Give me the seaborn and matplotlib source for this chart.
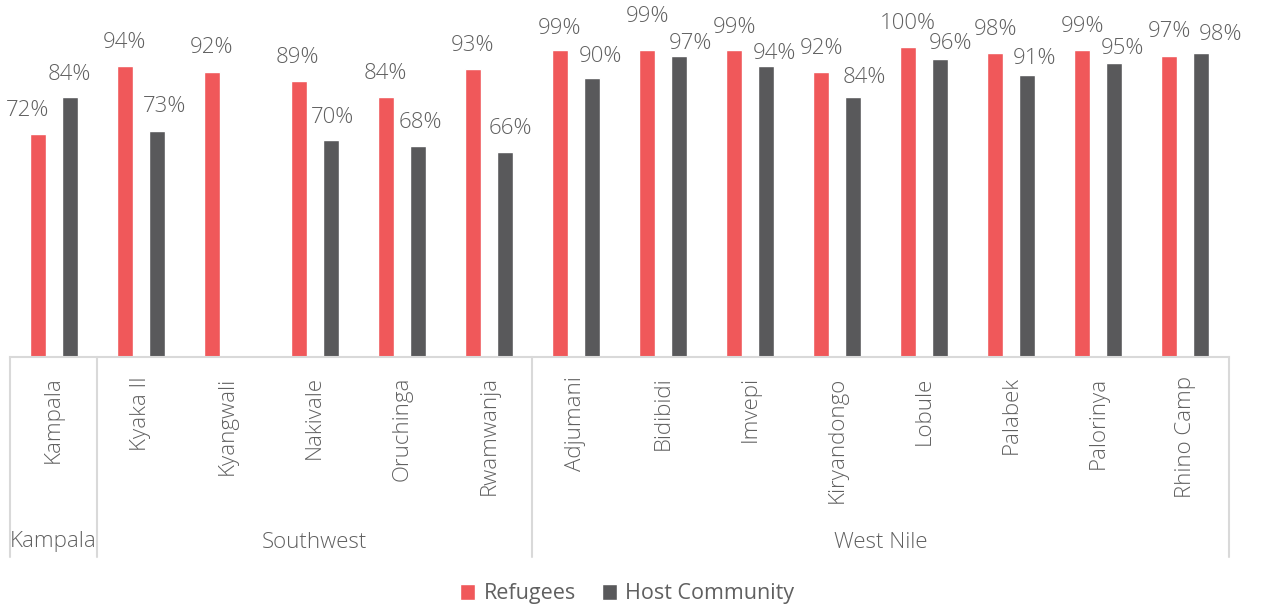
import numpy as np
import pandas as pd
import matplotlib
matplotlib.use("Agg")
import matplotlib.pyplot as plt
from matplotlib.patches import Patch
import seaborn as sns

# Settlement-level shares, grouped by region
settlements = ["Kampala", "Kyaka II", "Kyangwali", "Nakivale", "Oruchinga", "Rwamwanja",
               "Adjumani", "Bidibidi", "Imvepi", "Kiryandongo", "Lobule", "Palabek",
               "Palorinya", "Rhino Camp"]
regions = ["Kampala", "Southwest", "Southwest", "Southwest", "Southwest", "Southwest",
           "West Nile", "West Nile", "West Nile", "West Nile", "West Nile", "West Nile",
           "West Nile", "West Nile"]
refugees = [72, 94, 92, 89, 84, 93, 99, 99, 99, 92, 100, 98, 99, 97]
host_community = [84, 73, np.nan, 70, 68, 66, 90, 97, 94, 84, 96, 91, 95, 98]
series_names = ["Refugees", "Host Community"]
colors = ["#F0585A", "#59595B"]

# Label placement: horizontal shift and gap above the bar, in pixels
refugee_label_dx = [-9.5, 0, 0, -1, 0, 0, 0, 0, 0, 0, 0, 0, 0, 0]
refugee_label_gap = [18, 18, 19, 18, 18, 18, 16, 28, 17, 18, 18, 18, 18, 19]
host_label_dx = [0, 8, 0, 2, 2.5, 5, 8, 11, 8, 11, 10.5, 7.5, 8, 19]
host_label_gap = [17, 19, 0, 17, 18, 18, 16, 7, 7, 14, 10, 11, 9, 13]

sns.set_theme(style="white")
plt.rcParams["font.family"] = ["Open Sans", "DejaVu Sans"]
text_color = "#606060"
line_color = "#D9D9D9"
PX = 72 / 100  # points per pixel at 100 dpi

df = pd.DataFrame({
    "settlement": settlements * 2,
    "series": [series_names[0]] * len(settlements) + [series_names[1]] * len(settlements),
    "value": refugees + host_community,
}).dropna()

fig = plt.figure(figsize=(12.62, 6.10), dpi=100)
ax = fig.add_axes([10 / 1262, 1 - 357 / 610, 1219 / 1262, 341 / 610])

sns.barplot(data=df, x="settlement", y="value", hue="series", order=settlements,
            hue_order=series_names, palette=colors, width=0.736, gap=0.5,
            saturation=1, legend=False, ax=ax, err_kws={"linewidth": 0})

ax.set_ylim(0, 110)
ax.set_xlim(-0.5, len(settlements) - 0.5)
ax.set_xlabel("")
ax.set_ylabel("")
ax.set_yticks([])
for side in ["left", "right", "top"]:
    ax.spines[side].set_visible(False)
ax.spines["bottom"].set_color(line_color)
ax.spines["bottom"].set_linewidth(1.5)

# Value labels above each drawn bar
placements = [(refugee_label_dx, refugee_label_gap), (host_label_dx, host_label_gap)]
for container, (dxs, gaps) in zip(ax.containers, placements):
    for bar in container:
        if bar is None or np.isnan(bar.get_height()):
            continue
        cx = bar.get_x() + bar.get_width() / 2
        idx = int(round(cx))
        ax.annotate(f"{bar.get_height():.0f}%", (cx, bar.get_height()),
                    xytext=(dxs[idx] * PX, gaps[idx] * PX), textcoords="offset points",
                    ha="center", va="baseline", fontsize=16, color=text_color,
                    fontweight="light")

# Settlement names (rotated)
ax.set_xticks(range(len(settlements)))
ax.set_xticklabels(settlements, rotation=90, fontsize=16, color=text_color,
                   fontweight="light", va="top", ha="center")
ax.tick_params(axis="x", length=0, pad=14)

# Region labels and group separators
trans = ax.get_xaxis_transform()
bottom_y = -(557 - 357) / 341
label_y = -(542 - 357) / 341
bounds = []
start = 0
for i in range(1, len(regions) + 1):
    if i == len(regions) or regions[i] != regions[start]:
        bounds.append((start, i - 1, regions[start]))
        start = i
edges = [-0.5] + [b[1] + 0.5 for b in bounds]
for e in edges:
    ax.plot([e, e], [0, bottom_y], transform=trans, color=line_color,
            linewidth=1.5, clip_on=False)
for s, e, name in bounds:
    ax.text((s + e) / 2, label_y, name, transform=trans, ha="center", va="center",
            fontsize=16, color=text_color, fontweight="light")

handles = [Patch(facecolor=c, label=n) for c, n in zip(colors, series_names)]
fig.legend(handles=handles, loc="center", bbox_to_anchor=(0.497, 1 - 594 / 610), ncol=2,
           frameon=False, fontsize=15.5, handlelength=0.7, handleheight=0.7,
           handletextpad=0.4, columnspacing=1.2, labelcolor=text_color)

fig.savefig("out.png", dpi=100)
